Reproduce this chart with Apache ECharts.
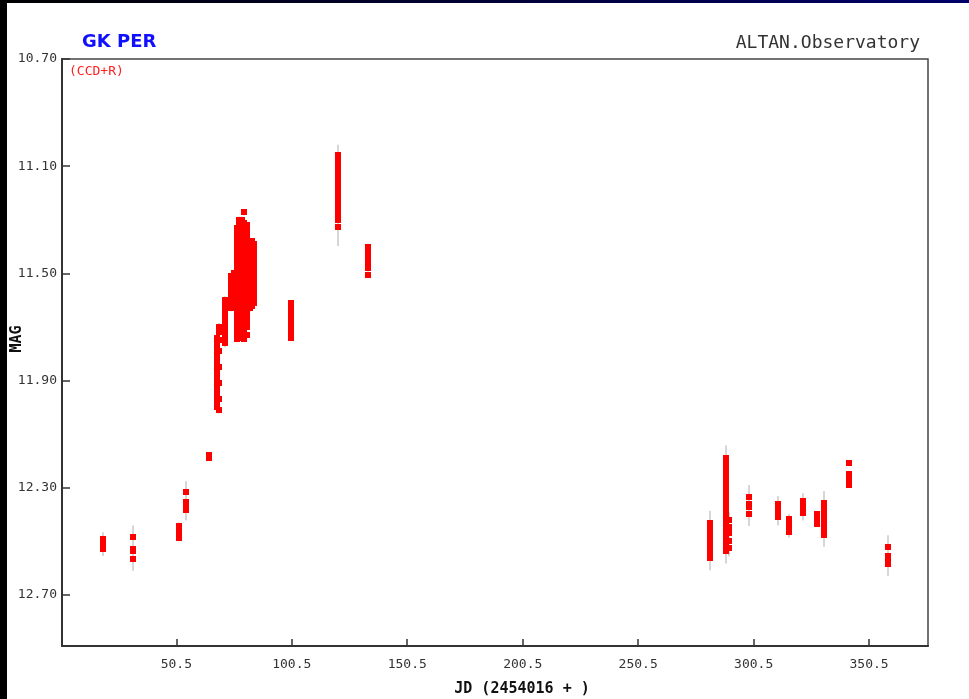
<!DOCTYPE html>
<html>
<head>
<meta charset="utf-8">
<title>GK PER light curve</title>
<script src="https://cdn.jsdelivr.net/npm/echarts@6/dist/echarts.min.js"></script>
<style>
  html, body { margin: 0; padding: 0; background: #fff; }
  #chart { width: 969px; height: 699px; }
</style>
</head>
<body>
<div id="chart"></div>
<script>
// Observing nights: JD offset (2454016 + ), R magnitudes measured that night, and the error of each night.
const nightJD = [
  18.7, 31.7, 51.5, 54.6, 64.7,
  68.0, 68.9, 71.6,
  74.3, 75.4, 76.6, 77.7, 78.8, 79.9, 81.0, 82.2, 83.4, 84.3,
  100.3, 120.4, 120.4, 133.7,
  281.7, 288.4, 289.8, 298.7, 310.9, 315.6, 321.7, 327.8, 330.8, 341.7, 358.6
];

const nightMags = [
  [12.491, 12.505, 12.518, 12.529],
  [12.485, 12.527, 12.537, 12.564],
  [12.441, 12.456, 12.471, 12.487],
  [12.315, 12.352, 12.367, 12.382],
  [12.179, 12.188],
  [11.74, 11.76, 11.78, 11.80, 11.82, 11.84, 11.86, 11.88, 11.90, 11.92, 11.94, 11.96, 11.98, 12.00],
  [11.70, 11.72, 11.75, 11.79, 11.85, 11.91, 11.97, 12.008],
  [11.60, 11.62, 11.64, 11.66, 11.68, 11.70, 11.72, 11.74, 11.76],
  [11.51, 11.53, 11.55, 11.57, 11.59, 11.61, 11.63],
  [11.50, 11.52, 11.54, 11.56, 11.58, 11.60, 11.62],
  [11.33, 11.35, 11.37, 11.39, 11.41, 11.43, 11.45, 11.47, 11.49, 11.51, 11.53, 11.55, 11.57, 11.59, 11.61, 11.63, 11.65, 11.67, 11.69, 11.71, 11.73, 11.745],
  [11.30, 11.32, 11.34, 11.36, 11.38, 11.40, 11.42, 11.44, 11.46, 11.48, 11.50, 11.52, 11.54, 11.56, 11.58, 11.60, 11.62, 11.64, 11.66, 11.68, 11.70, 11.72, 11.74],
  [11.30, 11.32, 11.34, 11.36, 11.38, 11.40, 11.42, 11.44, 11.46, 11.48, 11.50, 11.52, 11.54, 11.56, 11.58, 11.60, 11.62, 11.65],
  [11.272, 11.31, 11.33, 11.35, 11.37, 11.39, 11.41, 11.43, 11.45, 11.47, 11.49, 11.51, 11.53, 11.55, 11.57, 11.59, 11.61, 11.63, 11.65, 11.67, 11.69, 11.71, 11.73, 11.745],
  [11.32, 11.34, 11.36, 11.38, 11.40, 11.42, 11.44, 11.46, 11.48, 11.50, 11.52, 11.54, 11.56, 11.58, 11.60, 11.62, 11.64, 11.66, 11.68, 11.70, 11.73],
  [11.38, 11.40, 11.42, 11.44, 11.46, 11.48, 11.50, 11.52, 11.54, 11.56, 11.58, 11.60, 11.63],
  [11.38, 11.40, 11.42, 11.44, 11.46, 11.48, 11.50, 11.52, 11.54, 11.56, 11.58, 11.60, 11.62],
  [11.39, 11.41, 11.43, 11.45, 11.47, 11.49, 11.51, 11.53, 11.55, 11.57, 11.59, 11.61],
  [11.612, 11.63, 11.648, 11.668, 11.69, 11.708, 11.728, 11.742],
  [11.06, 11.078, 11.095, 11.115, 11.135, 11.152, 11.17, 11.19, 11.21, 11.228, 11.245, 11.265, 11.283, 11.30],
  [11.328],
  [11.40, 11.42, 11.44, 11.462, 11.48, 11.505],
  [12.43, 12.448, 12.466, 12.484, 12.50, 12.52, 12.54, 12.562],
  [12.187, 12.205, 12.225, 12.245, 12.262, 12.28, 12.30, 12.32, 12.34, 12.36, 12.38, 12.40, 12.42, 12.44, 12.46, 12.48, 12.50, 12.52, 12.537],
  [12.42, 12.445, 12.47, 12.50, 12.525],
  [12.334, 12.36, 12.372, 12.397],
  [12.361, 12.378, 12.395, 12.41],
  [12.418, 12.434, 12.45, 12.465],
  [12.35, 12.365, 12.38, 12.392],
  [12.398, 12.415, 12.434],
  [12.357, 12.377, 12.397, 12.417, 12.437, 12.457, 12.475],
  [12.209, 12.249, 12.262, 12.275, 12.288],
  [12.522, 12.553, 12.568, 12.583]
];

const nightErr = [
  0.025, 0.045, 0.012, 0.04, 0.008,
  0.015, 0.015, 0.015,
  0.012, 0.012, 0.012, 0.012, 0.012, 0.012, 0.012, 0.012, 0.012, 0.012,
  0.01, 0.04, 0.07, 0.012,
  0.045, 0.045, 0.03, 0.045, 0.03, 0.02, 0.03, 0.012, 0.045, 0.01, 0.045
];

// Axis ticks
const jdTicks = [50.5, 100.5, 150.5, 200.5, 250.5, 300.5, 350.5];
const magTicks = [10.70, 11.10, 11.50, 11.90, 12.30, 12.70];

// Flatten nights into [jd, mag, err] points
const points = [];
nightJD.forEach(function (jd, i) {
  nightMags[i].forEach(function (m) {
    points.push([jd, m, nightErr[i]]);
  });
});

const chart = echarts.init(document.getElementById('chart'), null, { renderer: 'canvas' });

const axisLabelFont = { fontFamily: 'DejaVu Sans Mono', fontSize: 13, color: '#333' };

const option = {
  backgroundColor: '#ffffff',
  animation: false,
  grid: {
    left: 62, right: 41, top: 59, bottom: 53,
    show: true, borderColor: '#444', borderWidth: 1.5, backgroundColor: 'transparent'
  },
  xAxis: {
    type: 'value',
    min: 1, max: 376,
    axisLine: { show: true, onZero: false, lineStyle: { color: '#333', width: 2 } },
    axisTick: { show: true, inside: true, length: 7, customValues: jdTicks, lineStyle: { color: '#333', width: 1.5 } },
    axisLabel: Object.assign({
      customValues: jdTicks, margin: 12,
      formatter: function (v) { return v.toFixed(1); }
    }, axisLabelFont),
    splitLine: { show: false }
  },
  yAxis: {
    type: 'value',
    inverse: true,
    min: 10.70, max: 12.89,
    axisLine: { show: true, onZero: false, lineStyle: { color: '#333', width: 2 } },
    axisTick: { show: true, inside: true, length: 8, customValues: magTicks, lineStyle: { color: '#333', width: 1.5 } },
    axisLabel: Object.assign({
      customValues: magTicks, margin: 5,
      formatter: function (v) { return v.toFixed(2); }
    }, axisLabelFont),
    splitLine: { show: false }
  },
  series: [
    {
      // error bars
      type: 'custom',
      clip: true,
      data: points,
      encode: { x: 0, y: 1 },
      renderItem: function (params, api) {
        const x = api.value(0), m = api.value(1), e = api.value(2);
        const p1 = api.coord([x, m - e]);
        const p2 = api.coord([x, m + e]);
        const lx = Math.round(p1[0]);
        return {
          type: 'line',
          shape: { x1: lx, y1: p1[1], x2: lx, y2: p2[1] },
          style: { stroke: '#d6d6d6', lineWidth: 2 }
        };
      }
    },
    {
      // magnitude markers: pixel-aligned red boxes
      type: 'custom',
      clip: true,
      data: points,
      encode: { x: 0, y: 1 },
      renderItem: function (params, api) {
        const p = api.coord([api.value(0), api.value(1)]);
        const cx = Math.round(p[0]), cy = Math.round(p[1]);
        return {
          type: 'rect',
          shape: { x: cx - 3, y: cy - 3, width: 6, height: 6 },
          style: { fill: '#ff0000' }
        };
      }
    }
  ],
  graphic: [
    {
      type: 'rect', left: 0, top: 0, z: 100,
      shape: { width: 969, height: 3 },
      style: {
        fill: new echarts.graphic.LinearGradient(0, 0, 1, 0, [
          { offset: 0, color: '#000000' },
          { offset: 1, color: '#00006a' }
        ])
      }
    },
    {
      type: 'rect', left: 0, top: 0, z: 100,
      shape: { width: 7, height: 699 },
      style: { fill: '#000000' }
    },
    {
      type: 'text', x: 82, y: 42, z: 100,
      style: { text: 'GK PER', fill: '#1010ff', font: 'bold 18px "DejaVu Sans"', textVerticalAlign: 'middle' }
    },
    {
      type: 'text', x: 920, y: 43, z: 100,
      style: { text: 'ALTAN.Observatory', fill: '#333', font: '18px "DejaVu Sans Mono"', textAlign: 'right', textVerticalAlign: 'middle' }
    },
    {
      type: 'text', x: 69, y: 71.5, z: 100,
      style: { text: '(CCD+R)', fill: '#ff2020', font: '13px "DejaVu Sans Mono"', textVerticalAlign: 'middle' }
    },
    {
      type: 'text', x: 17, y: 339, z: 100, rotation: Math.PI / 2,
      style: { text: 'MAG', fill: '#111', font: 'bold 15px "DejaVu Sans Mono"', textAlign: 'center', textVerticalAlign: 'middle' }
    },
    {
      type: 'text', x: 522, y: 689, z: 100,
      style: { text: 'JD (2454016 + )', fill: '#111', font: 'bold 15px "DejaVu Sans Mono"', textAlign: 'center', textVerticalAlign: 'middle' }
    }
  ]
};

chart.setOption(option);
</script>
</body>
</html>
